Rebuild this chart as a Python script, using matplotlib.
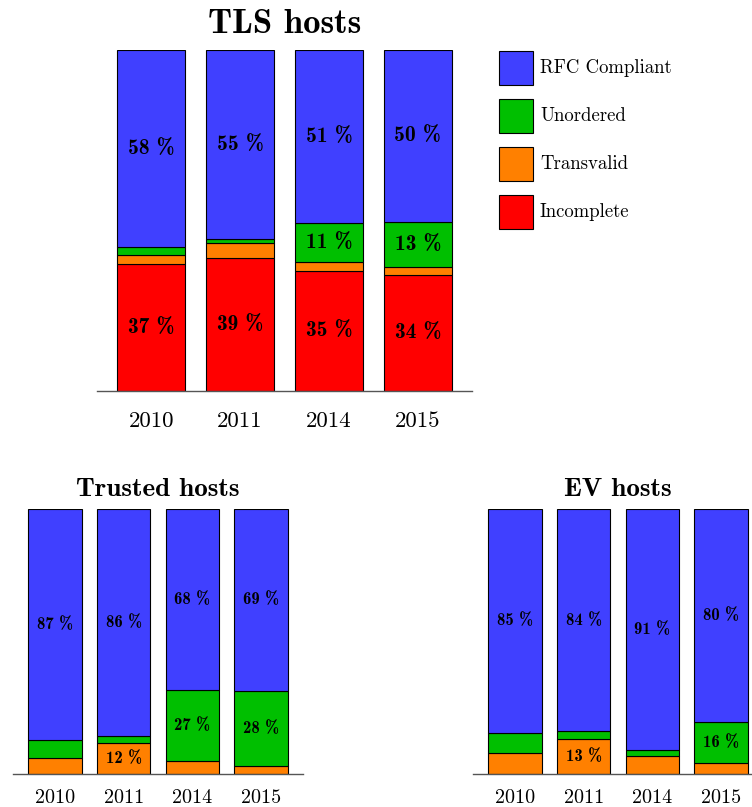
import matplotlib

matplotlib.use("Agg")
import matplotlib.pyplot as plt
from matplotlib.patches import Rectangle

YEARS = ["2010", "2011", "2014", "2015"]
CATEGORIES = ["Incomplete", "Transvalid", "Unordered", "RFC Compliant"]
COLORS = ["#ff0000", "#ff8000", "#00bf00", "#4040ff"]

# percent per year, stacked bottom -> top in CATEGORIES order
TLS_INCOMPLETE = [37.2, 39.1, 35.3, 34.0]
TLS_TRANSVALID = [2.6, 4.2, 2.5, 2.3]
TLS_UNORDERED = [2.4, 1.3, 11.4, 13.3]
TLS_RFC = [57.8, 55.4, 50.8, 50.4]

TRUSTED_INCOMPLETE = [0, 0, 0, 0]
TRUSTED_TRANSVALID = [6.2, 11.6, 5.0, 2.9]
TRUSTED_UNORDERED = [6.5, 2.9, 26.6, 28.4]
TRUSTED_RFC = [87.3, 85.5, 68.4, 68.7]

EV_INCOMPLETE = [0, 0, 0, 0]
EV_TRANSVALID = [7.8, 13.3, 6.7, 4.0]
EV_UNORDERED = [7.6, 2.8, 2.5, 15.5]
EV_RFC = [84.6, 83.9, 90.8, 80.5]

W, H = 752, 807


def stacked(ax, series, width, label_size, tick_size, tick_pad, title, title_size, title_pad):
    x = range(len(YEARS))
    bottom = [0.0] * len(YEARS)
    for vals, color in zip(series, COLORS):
        ax.bar(x, vals, width, bottom=bottom, color=color, edgecolor="black", linewidth=0.8)
        for i, v in enumerate(vals):
            if v >= 9.5:
                ax.text(i, bottom[i] + v / 2, f"{round(v)} %", ha="center", va="center",
                        family="cmb10", fontsize=label_size)
        bottom = [b + v for b, v in zip(bottom, vals)]
    ax.set_xlim(-0.61, 3.61)
    ax.set_ylim(0, 100)
    for s in ["top", "left", "right"]:
        ax.spines[s].set_visible(False)
    ax.spines["bottom"].set_color("#555555")
    ax.spines["bottom"].set_linewidth(1.0)
    ax.set_yticks([])
    ax.set_xticks(list(x))
    ax.set_xticklabels(YEARS, family="cmr10", fontsize=tick_size)
    ax.tick_params(axis="x", length=0, pad=tick_pad)
    ax.set_title(title, family="cmb10", fontsize=title_size, pad=title_pad)


def main() -> None:
    fig = plt.figure(figsize=(W / 100, H / 100), dpi=100)

    ax_tls = fig.add_axes([97 / W, 1 - 391 / H, 375 / W, 341 / H])
    stacked(ax_tls, [TLS_INCOMPLETE, TLS_TRANSVALID, TLS_UNORDERED, TLS_RFC],
            0.77, 15.5, 16.5, 15, "TLS hosts", 25, 12.5)

    ax_tr = fig.add_axes([13 / W, 1 - 774 / H, 290 / W, 265 / H])
    stacked(ax_tr, [TRUSTED_INCOMPLETE, TRUSTED_TRANSVALID, TRUSTED_UNORDERED, TRUSTED_RFC],
            0.78, 12, 14.5, 11, "Trusted hosts", 19.5, 9.5)

    ax_ev = fig.add_axes([473 / W, 1 - 774 / H, 290 / W, 265 / H])
    stacked(ax_ev, [EV_INCOMPLETE, EV_TRANSVALID, EV_UNORDERED, EV_RFC],
            0.78, 12, 14.5, 11, "EV hosts", 19.5, 9.5)

    # legend, top entry is RFC Compliant
    for k, (name, color) in enumerate(zip(CATEGORIES[::-1], COLORS[::-1])):
        top = 51 + 48 * k
        fig.add_artist(Rectangle((499 / W, 1 - (top + 34) / H), 34 / W, 34 / H,
                                 transform=fig.transFigure, facecolor=color,
                                 edgecolor="black", linewidth=0.8))
        fig.text(540 / W, 1 - (top + 17) / H, name, family="cmr10", fontsize=13.5, va="center")

    fig.savefig("out.png", dpi=100)


if __name__ == "__main__":
    main()
